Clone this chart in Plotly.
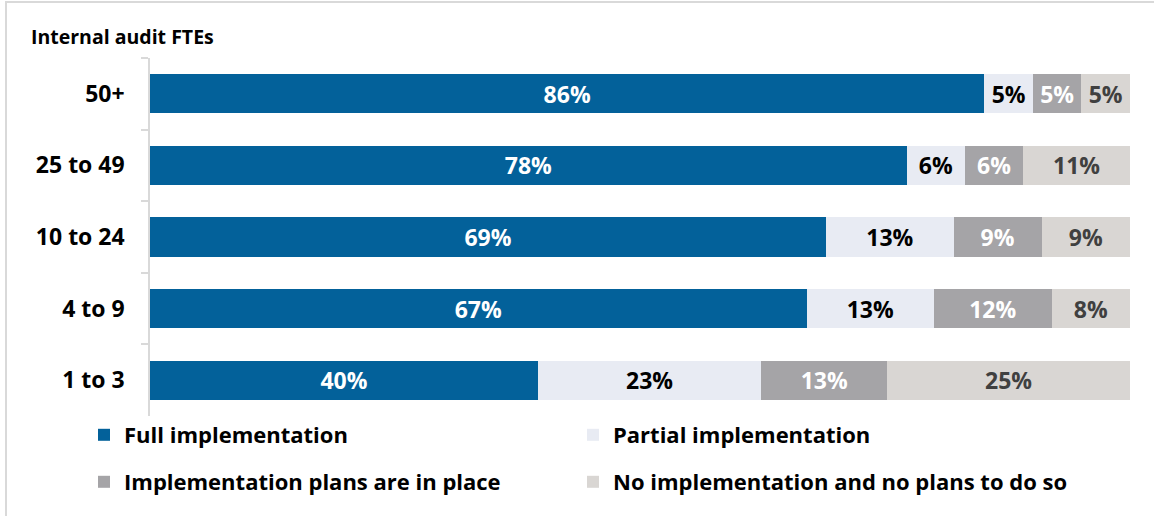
import plotly.graph_objects as go

# Data: share of respondents by internal audit team size (FTEs)
categories = ["50+", "25 to 49", "10 to 24", "4 to 9", "1 to 3"]
series_names = [
    "Full implementation",
    "Partial implementation",
    "Implementation plans are in place",
    "No implementation and no plans to do so",
]
full_impl = [86, 78, 69, 67, 40]
partial_impl = [5, 6, 13, 13, 23]
plans_in_place = [5, 6, 9, 12, 13]
no_plans = [5, 11, 9, 8, 25]

series_values = [full_impl, partial_impl, plans_in_place, no_plans]
colors = ["#03619A", "#E8EBF3", "#A5A4A7", "#D9D6D3"]
text_colors = ["#FFFFFF", "#000000", "#FFFFFF", "#404040"]
legend_ids = ["legend", "legend2", "legend3", "legend4"]

FONT = "Open Sans"

W, H = 1154, 516
ML, MR, MT, MB = 150, 24, 58, 100
PW, PH = W - ML - MR, H - MT - MB


def px_x(x):
    return (x - ML) / PW


def px_y(y):
    return (H - MB - y) / PH


fig = go.Figure()
for name, vals, col, tcol, lg in zip(series_names, series_values, colors, text_colors, legend_ids):
    fig.add_trace(go.Bar(
        name=name,
        y=categories,
        x=vals,
        orientation="h",
        marker=dict(color=col, line=dict(width=0)),
        text=[f"{v}%" for v in vals],
        textposition="inside",
        insidetextanchor="middle",
        textangle=0,
        constraintext="none",
        insidetextfont=dict(family=FONT, size=23, color=tcol, weight="bold"),
        legend=lg,
        hoverinfo="skip",
    ))

# Legend laid out as a 2 x 2 grid: one legend box per entry
legend_common = dict(
    orientation="h",
    xanchor="left",
    yanchor="middle",
    bgcolor="rgba(0,0,0,0)",
    font=dict(family=FONT, size=22, color="#000000", weight="bold"),
)
col_x = [84, 573]
row_y = [435, 482]

fig.update_layout(
    width=W,
    height=H,
    margin=dict(l=ML, r=MR, t=MT, b=MB),
    paper_bgcolor="#FFFFFF",
    plot_bgcolor="#FFFFFF",
    barmode="stack",
    barnorm="percent",
    bargap=0.45,
    showlegend=True,
    legend=dict(x=px_x(col_x[0]), y=px_y(row_y[0]), **legend_common),
    legend2=dict(x=px_x(col_x[1]), y=px_y(row_y[0]), **legend_common),
    legend3=dict(x=px_x(col_x[0]), y=px_y(row_y[1]), **legend_common),
    legend4=dict(x=px_x(col_x[1]), y=px_y(row_y[1]), **legend_common),
    xaxis=dict(visible=False, range=[0, 100], fixedrange=True),
    yaxis=dict(
        categoryorder="array",
        categoryarray=categories,
        autorange="reversed",
        showline=True,
        linecolor="#D9D9D9",
        linewidth=1.5,
        ticks="outside",
        tickson="boundaries",
        ticklen=7,
        tickcolor="#D9D9D9",
        tickwidth=1.5,
        ticklabelstandoff=19,
        tickfont=dict(family=FONT, size=23, color="#000000", weight="bold"),
        showgrid=False,
        zeroline=False,
        fixedrange=True,
    ),
    annotations=[
        dict(
            text="Internal audit FTEs",
            xref="paper", yref="paper",
            x=px_x(29), y=px_y(37),
            xanchor="left", yanchor="middle",
            showarrow=False,
            font=dict(family=FONT, size=19.5, color="#000000", weight="bold"),
        )
    ],
    shapes=[
        dict(
            type="rect", xref="paper", yref="paper",
            x0=px_x(6), x1=px_x(1170), y0=px_y(530), y1=px_y(2),
            line=dict(color="#D9D9D9", width=2),
            fillcolor="rgba(0,0,0,0)",
            layer="below",
        )
    ],
)

fig.write_html("out.html")
